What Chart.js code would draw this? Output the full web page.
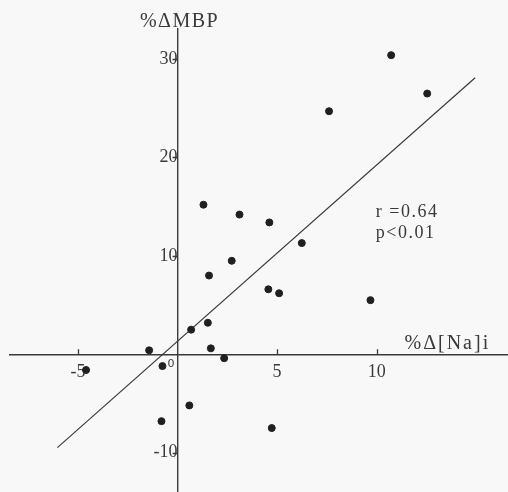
<!DOCTYPE html>
<html>
<head>
<meta charset="utf-8">
<script src="https://cdn.jsdelivr.net/npm/chart.js@4/dist/chart.umd.min.js"></script>
<style>
  body { margin: 0; background: #f8f8f8; }
  #wrap { width: 508px; height: 492px; }
</style>
</head>
<body>
<div id="wrap"><canvas id="chart" width="508" height="492"></canvas></div>
<script>
// %Δ[Na]i (x) against %ΔMBP (y)
const naChange = [1.30, 3.11, 10.73, 12.54, 7.61, 4.61, 6.24, 2.72, 1.58, 1.52, 0.68,
                  1.67, -1.43, 2.34, -0.76, -4.60, 0.59, -0.81, 4.56, 5.10, 9.69, 4.73];
const mbpChange = [15.2, 14.2, 30.4, 26.5, 24.7, 13.4, 11.3, 9.5, 8.0, 3.2, 2.5,
                   0.6, 0.4, -0.4, -1.2, -1.6, -5.2, -6.8, 6.6, 6.2, 5.5, -7.5];
// regression line end points
const fitX = [-6.04, 14.95];
const fitY = [-9.49, 28.1];
const xTicks = [-5, 5, 10];
const yTicks = [-10, 10, 20, 30];
const stats = ['r =0.64', 'p<0.01'];

const ink = '#3a3a3a';
const serif = '"Liberation Serif", "DejaVu Serif", serif';

const points = naChange.map((v, i) => ({ x: v, y: mbpChange[i] }));
const fit = fitX.map((v, i) => ({ x: v, y: fitY[i] }));

// no extra room for tick labels, the axes cross inside the plot
function noPadding(scale) {
    scale.paddingTop = 0;
    scale.paddingBottom = 0;
    scale.paddingLeft = 0;
    scale.paddingRight = 0;
}

const labelsPlugin = {
    id: 'labels',
    afterDraw(chart) {
        const ctx = chart.ctx;
        const xs = chart.scales.x, ys = chart.scales.y;
        const ox = xs.getPixelForValue(0), oy = ys.getPixelForValue(0);
        ctx.save();
        // tick marks: up from the x axis, left from the y axis
        ctx.strokeStyle = ink;
        ctx.lineWidth = 1.3;
        ctx.beginPath();
        xTicks.forEach(v => {
            const px = Math.round(xs.getPixelForValue(v)) + 0.5;
            ctx.moveTo(px, oy);
            ctx.lineTo(px, oy - 5);
        });
        yTicks.forEach(v => {
            const py = Math.round(ys.getPixelForValue(v)) + 0.5;
            ctx.moveTo(ox, py);
            ctx.lineTo(ox - 5, py);
        });
        ctx.stroke();

        ctx.fillStyle = ink;
        ctx.textBaseline = 'alphabetic';
        ctx.font = '20px ' + serif;
        ctx.letterSpacing = '1.5px';
        ctx.textAlign = 'center';
        ctx.fillText('%ΔMBP', ox + 2, 27);
        ctx.font = '20px ' + serif;
        ctx.letterSpacing = '2px';
        ctx.textAlign = 'left';
        ctx.fillText('%Δ[Na]i', xs.getPixelForValue(11.4), oy - 5);
        ctx.font = '18px ' + serif;
        ctx.letterSpacing = '1.5px';
        ctx.fillText(stats[0], xs.getPixelForValue(9.96), ys.getPixelForValue(13.95));
        ctx.fillText(stats[1], xs.getPixelForValue(9.96), ys.getPixelForValue(11.8));
        ctx.letterSpacing = '0px';
        ctx.font = '11px "DejaVu Sans", sans-serif';
        ctx.textAlign = 'right';
        ctx.textBaseline = 'top';
        ctx.fillText('0', ox - 3, oy + 4);
        ctx.restore();
    }
};

new Chart(document.getElementById('chart'), {
    type: 'scatter',
    data: {
        datasets: [
            {
                data: points,
                backgroundColor: '#202020',
                borderColor: '#202020',
                pointRadius: 3.5,
                pointHoverRadius: 3.5
            },
            {
                type: 'line',
                data: fit,
                borderColor: ink,
                borderWidth: 1.2,
                pointRadius: 0,
                fill: false
            }
        ]
    },
    options: {
        responsive: false,
        animation: false,
        layout: { autoPadding: false, padding: { left: 10, top: 29, right: 0, bottom: 0 } },
        plugins: { legend: { display: false }, tooltip: { enabled: false } },
        scales: {
            x: {
                type: 'linear',
                position: { y: 0 },
                min: -8.42,
                max: 16.6,
                afterBuildTicks: (scale) => { scale.ticks = xTicks.map(v => ({ value: v })); },
                afterFit: noPadding,
                grid: { drawOnChartArea: false, drawTicks: false },
                border: { display: true, color: ink, width: 1.4 },
                ticks: { color: ink, padding: 7, font: { family: serif, size: 18 } }
            },
            y: {
                type: 'linear',
                position: { x: 0 },
                min: -14,
                max: 33.06,
                afterBuildTicks: (scale) => { scale.ticks = yTicks.map(v => ({ value: v })); },
                afterFit: noPadding,
                grid: { drawOnChartArea: false, drawTicks: false },
                border: { display: true, color: ink, width: 1.4 },
                ticks: { color: ink, padding: 5, font: { family: serif, size: 18 } }
            }
        }
    },
    plugins: [labelsPlugin]
});
</script>
</body>
</html>
